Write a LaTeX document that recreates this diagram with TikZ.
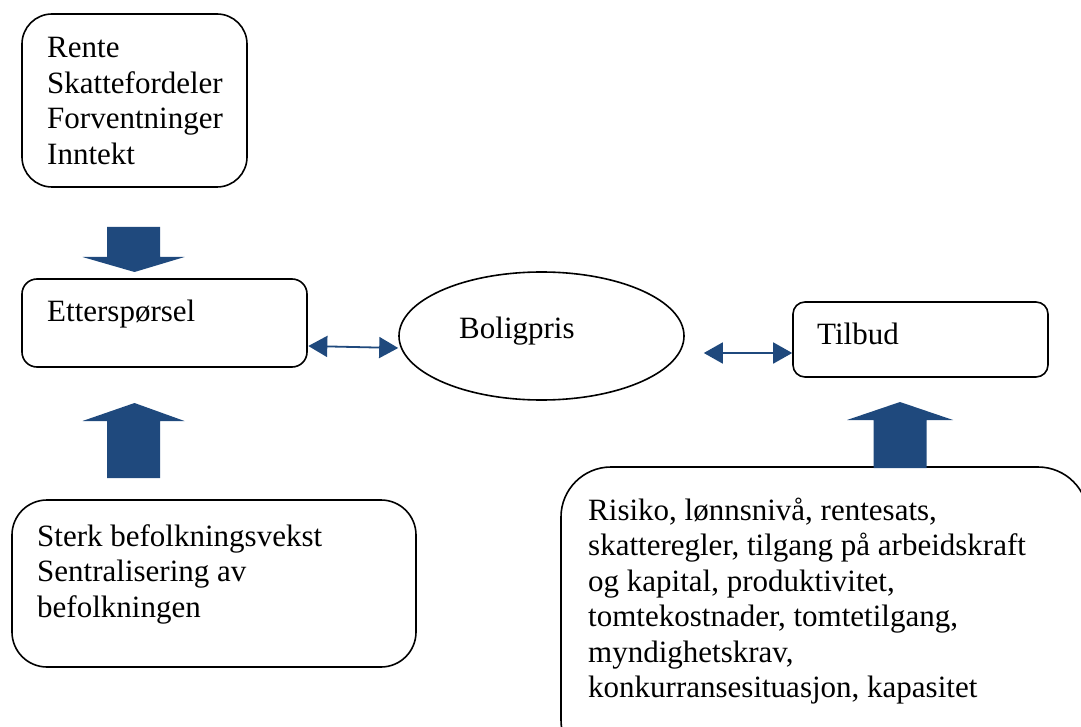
\documentclass[tikz,border=0pt]{standalone}
\usepackage{fontspec}
\setmainfont{Liberation Serif}
\usetikzlibrary{shapes.geometric,arrows.meta,calc}
\definecolor{arrowblue}{RGB}{31,73,125}
\begin{document}
\begin{tikzpicture}[x=1pt,y=-1pt,
  box/.style={draw=black,line width=1.6pt,inner sep=0pt},
  txt/.style={inner sep=0pt,align=left,font=\fontsize{31}{35.5}\selectfont},
  blockarrow/.style={fill=arrowblue,draw=none},
  link/.style={draw=arrowblue,line width=1.8pt,{Triangle[length=19pt,width=21pt]}-{Triangle[length=19pt,width=21pt]}}]
\useasboundingbox (0,0) rectangle (1081,727);

% boxes
\node[box,rounded corners=30pt,minimum width=225pt,minimum height=173pt] (drivers) at (134.5,100.5) {};
\node[box,rounded corners=15pt,minimum width=285pt,minimum height=88pt] (ett) at (164.5,323) {};
\node[box,ellipse,minimum width=285pt,minimum height=128pt] (bol) at (541.5,336) {};
\node[box,rounded corners=12pt,minimum width=255pt,minimum height=75pt] (tilb) at (920.5,339.5) {};
\node[box,rounded corners=35pt,minimum width=404pt,minimum height=167pt] (befolk) at (214,583.5) {};
\begin{scope}
  \clip (0,0) rectangle (1081,727);
  \node[box,rounded corners=50pt,minimum width=527pt,minimum height=303pt] (kost) at (824.5,618.5) {};
\end{scope}

% texts
\node[txt,anchor=north west] (t1) at (47,32.5) {\strut Rente\\Skattefordeler\\Forventninger\\Inntekt};
\node[txt,anchor=base west] (t2) at (47,321) {Etterspørsel};
\node[txt,anchor=base west] (t3) at (459,338) {Boligpris};
\node[txt,anchor=base west] (t4) at (817,344) {Tilbud};
\node[txt,anchor=north west] (t5) at (37,521) {\strut Sterk befolkningsvekst\\Sentralisering av\\befolkningen};
\node[txt,anchor=north west] (t6) at (588,495) {\strut Risiko, lønnsnivå, rentesats,\\skatteregler, tilgang på arbeidskraft\\og kapital, produktivitet,\\tomtekostnader, tomtetilgang,\\myndighetskrav,\\konkurransesituasjon, kapasitet};

% block arrows
\coordinate (a1) at (134.5,272);
\fill[blockarrow] (a1) -- ++(-52,-15) -- ++(24.5,0) -- ++(0,-30) -- ++(53,0) -- ++(0,30) -- ++(24.5,0) -- cycle;
\coordinate (a2) at (134.5,403);
\fill[blockarrow] (a2) -- ++(-52,18) -- ++(24.5,0) -- ++(0,57) -- ++(53,0) -- ++(0,-57) -- ++(24.5,0) -- cycle;
\coordinate (a3) at (900,402);
\fill[blockarrow] (a3) -- ++(-53,18) -- ++(26.5,0) -- ++(0,48) -- ++(53,0) -- ++(0,-48) -- ++(26.5,0) -- cycle;

% links
\draw[link] ($(ett.east)+(0.5,23)$) -- ($(bol.west)+(0,12)$);
\coordinate (r1) at ($(bol.east)+(19,17)$);
\draw[link] (r1) -- ($(tilb.west)+(0,13.5)$);
\end{tikzpicture}
\end{document}
